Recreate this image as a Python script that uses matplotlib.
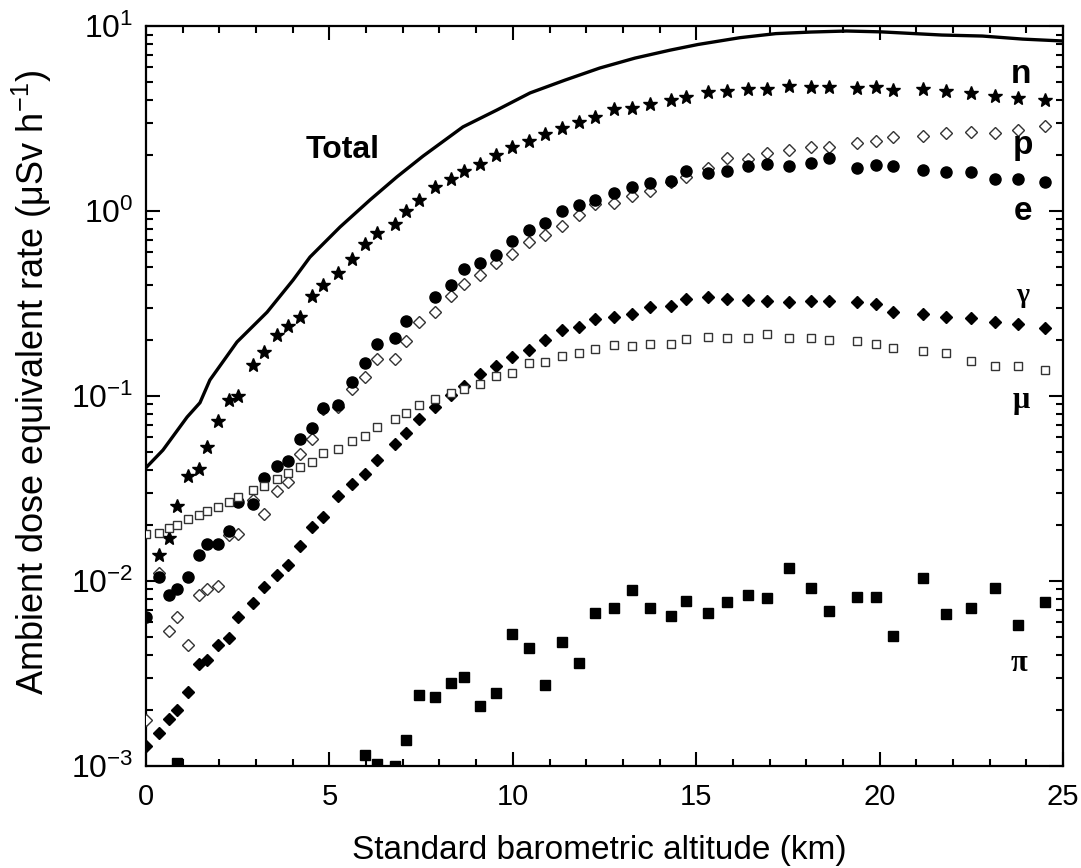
import numpy as np
import matplotlib
matplotlib.use('Agg')
import matplotlib.pyplot as plt
from matplotlib.ticker import MultipleLocator, LogLocator, NullFormatter

plt.rcParams['font.family'] = ['Liberation Sans', 'DejaVu Sans']
plt.rcParams['mathtext.default'] = 'regular'

nan = np.nan

# altitude bins (km) shared by the marker series
alt = [0.0, 0.36, 0.63, 0.85, 1.14, 1.45, 1.65, 1.95, 2.26, 2.50,
       2.91, 3.22, 3.56, 3.88, 4.20, 4.52, 4.83, 5.24, 5.61, 5.97,
       6.31, 6.79, 7.09, 7.45, 7.88, 8.31, 8.68, 9.11, 9.53, 9.97,
       10.45, 10.87, 11.33, 11.81, 12.24, 12.76, 13.24, 13.75, 14.32, 14.72,
       15.33, 15.83, 16.42, 16.94, 17.53, 18.12, 18.63, 19.38, 19.89, 20.37,
       21.18, 21.82, 22.48, 23.14, 23.76, 24.50]

# neutrons
n_rate = [nan, 0.0138, 0.0170, 0.0255, 0.0370, 0.0402, 0.0532, 0.0733, 0.0951, 0.1004,
          0.148, 0.173, 0.215, 0.239, 0.266, 0.348, 0.398, 0.460, 0.551, 0.664,
          0.757, 0.851, 1.004, 1.146, 1.343, 1.49, 1.65, 1.79, 2.02, 2.23,
          2.40, 2.60, 2.80, 3.04, 3.24, 3.55, 3.59, 3.79, 3.98, 4.15,
          4.42, 4.47, 4.55, 4.55, 4.74, 4.67, 4.67, 4.60, 4.67, 4.51,
          4.56, 4.47, 4.33, 4.19, 4.10, 3.98]

# protons
p_rate = [0.00177, 0.0110, 0.00537, 0.00637, 0.00451, 0.00839, 0.00906, 0.00944, 0.0177, 0.0180,
          0.0274, 0.0230, 0.0308, 0.0344, 0.0485, 0.0584, 0.0847, 0.0869, 0.1087, 0.126,
          0.158, 0.158, 0.198, 0.252, 0.283, 0.348, 0.402, 0.451, 0.521, 0.583,
          0.683, 0.741, 0.829, 0.951, 1.09, 1.10, 1.21, 1.29, 1.44, 1.53,
          1.70, 1.93, 1.90, 2.05, 2.14, 2.23, 2.23, 2.32, 2.40, 2.52,
          2.54, 2.63, 2.69, 2.65, 2.74, 2.88]

# electrons
e_rate = [0.0064, 0.0105, 0.0084, 0.0090, 0.0105, 0.0139, 0.0158, 0.0158, 0.0186, 0.0269,
          0.0260, 0.0359, 0.0419, 0.0446, 0.0586, 0.0675, 0.0859, 0.0894, 0.119, 0.150,
          0.190, 0.207, 0.254, nan, 0.343, 0.400, 0.484, 0.521, 0.578, 0.690,
          0.789, 0.865, 1.00, 1.077, 1.146, 1.256, 1.343, 1.41, 1.45, 1.64,
          1.60, 1.64, 1.75, 1.79, 1.75, 1.81, 1.94, 1.71, 1.77, 1.75,
          1.67, 1.62, 1.62, 1.49, 1.49, 1.44]

# photons
g_rate = [0.00128, 0.00150, 0.00180, 0.00201, 0.00252, 0.00355, 0.00374, 0.00451, 0.00490, 0.00637,
          0.00757, 0.00931, 0.01077, 0.01225, 0.0154, 0.0195, 0.0223, 0.0289, 0.0334, 0.0377,
          0.0451, 0.0548, 0.0628, 0.0748, 0.0875, 0.101, 0.113, 0.131, 0.145, 0.163,
          0.177, 0.202, 0.227, 0.235, 0.260, 0.266, 0.279, 0.301, 0.308, 0.334,
          0.344, 0.336, 0.330, 0.327, 0.321, 0.326, 0.326, 0.322, 0.314, 0.286,
          0.279, 0.266, 0.264, 0.250, 0.244, 0.234]

# muons
mu_rate = [0.0179, 0.0182, 0.0193, 0.0201, 0.0217, 0.0227, 0.0240, 0.0252, 0.0267, 0.0283,
           0.0309, 0.0327, 0.0355, 0.0382, 0.0415, 0.0442, 0.0494, 0.0518, 0.0569, 0.0610,
           0.0682, 0.0754, 0.0806, 0.0894, 0.0960, 0.1035, 0.1087, 0.1165, 0.1288, 0.1337,
           0.150, 0.153, 0.164, 0.171, 0.180, 0.189, 0.186, 0.190, 0.190, 0.204,
           0.209, 0.205, 0.205, 0.216, 0.205, 0.205, 0.202, 0.199, 0.191, 0.182,
           0.176, 0.171, 0.155, 0.145, 0.146, 0.139]

# pions
pi_rate = [nan, nan, nan, 0.00104, nan, nan, nan, nan, nan, nan,
           nan, nan, nan, nan, nan, nan, nan, nan, nan, 0.00114,
           0.00102, 0.00100, 0.00139, 0.00242, 0.00237, 0.00280, 0.00304, 0.00212, 0.00249, 0.00515,
           0.00436, 0.00274, 0.00470, 0.00362, 0.00668, 0.00717, 0.00893, 0.00717, 0.00647, 0.00780,
           0.00674, 0.00769, 0.00839, 0.00805, 0.01170, 0.00914, 0.00689, 0.00820, 0.00818, 0.00506,
           0.01035, 0.00661, 0.00717, 0.00921, 0.00578, 0.00773]

# total (solid curve)
total_alt = [0.0, 0.46, 1.12, 1.47, 1.74, 2.48, 3.30, 4.01, 4.47, 5.29,
             6.11, 6.84, 7.55, 8.64, 9.57, 10.47, 11.42, 12.37, 13.33, 14.29,
             15.05, 16.19, 17.17, 18.13, 19.1, 20.04, 21.7, 22.8, 23.9, 25.0]
total_rate = [0.041, 0.051, 0.077, 0.092, 0.122, 0.196, 0.284, 0.424, 0.564, 0.82,
              1.15, 1.53, 1.98, 2.85, 3.52, 4.35, 5.1, 5.93, 6.71, 7.41,
              7.95, 8.65, 9.1, 9.28, 9.40, 9.30, 8.94, 8.83, 8.5, 8.3]

fig = plt.figure(figsize=(10.81, 8.68), dpi=100)
ax = fig.add_axes([0.1351, 0.1175, 0.8483, 0.8525])

ax.plot(total_alt, total_rate, color='black', lw=2.4, zorder=2)
ax.plot(alt, n_rate, ls='none', marker='*', ms=10.5, color='black', zorder=3)
ax.plot(alt, p_rate, ls='none', marker='D', ms=6.5, mfc='white', mec='#333333', mew=1.0, zorder=3)
ax.plot(alt, e_rate, ls='none', marker='o', ms=8, color='black', zorder=4)
ax.plot(alt, g_rate, ls='none', marker='D', ms=6.5, color='black', zorder=3)
ax.plot(alt, mu_rate, ls='none', marker='s', ms=6.3, mfc='white', mec='#333333', mew=1.0, zorder=4)
ax.plot(alt, pi_rate, ls='none', marker='s', ms=7, color='black', zorder=3)

ax.set_yscale('log')
ax.set_xlim(0, 25)
ax.set_ylim(1e-3, 1e1)
ax.xaxis.set_major_locator(MultipleLocator(5))
ax.xaxis.set_minor_locator(MultipleLocator(1))
ax.yaxis.set_major_locator(LogLocator(base=10, numticks=10))
ax.yaxis.set_minor_locator(LogLocator(base=10, subs=np.arange(2, 10), numticks=20))
ax.yaxis.set_minor_formatter(NullFormatter())

ax.tick_params(which='both', direction='in', top=True, right=True, width=1.5)
ax.tick_params(which='major', length=10)
ax.tick_params(which='minor', length=5)
ax.tick_params(axis='x', pad=12, labelsize=21)
ax.tick_params(axis='y', pad=9, labelsize=23)
for s in ax.spines.values():
    s.set_linewidth(1.6)

ax.set_xlabel('Standard barometric altitude (km)', fontsize=24)
ax.xaxis.set_label_coords(0.494, -0.093)
ax.set_ylabel('Ambient dose equivalent rate (μSv h$^{-1}$)', fontsize=26)
ax.yaxis.set_label_coords(-0.1, 0.519)

# curve labels
ax.text(5.37, 2.14, 'Total', fontsize=23, fontweight='bold', ha='center', va='center')
ax.text(23.86, 5.5, 'n', fontsize=24, fontweight='bold', ha='center', va='center')
ax.text(23.9, 2.27, 'p', fontsize=24, fontweight='bold', ha='center', va='center')
ax.text(23.9, 0.99, 'e', fontsize=24, fontweight='bold', ha='center', va='center')
ax.text(23.9, 0.35, 'γ', fontsize=20, fontweight='bold', ha='center', va='center',
        family=['Liberation Serif', 'DejaVu Serif'])
ax.text(23.85, 0.095, 'μ', fontsize=22, fontweight='bold', ha='center', va='center',
        family=['Liberation Serif', 'DejaVu Serif'])
ax.text(23.8, 0.0036, 'π', fontsize=22, fontweight='bold', ha='center', va='center',
        family=['Liberation Serif', 'DejaVu Serif'])

fig.savefig('out.png', dpi=100)
